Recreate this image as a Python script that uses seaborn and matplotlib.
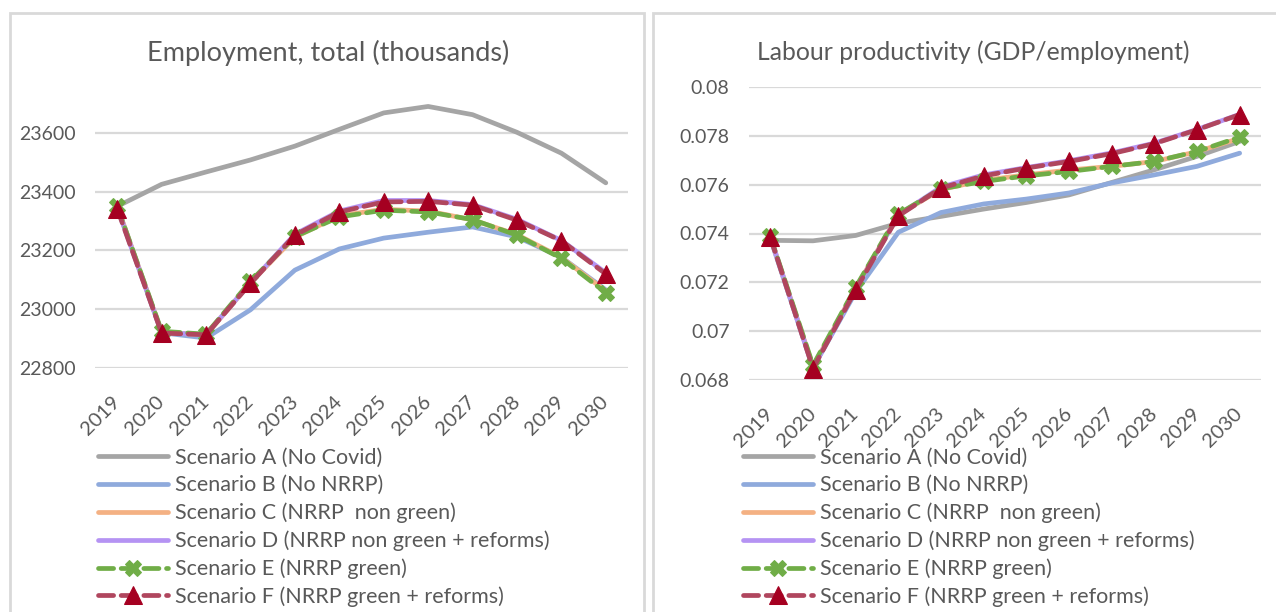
import numpy as np
import pandas as pd
import matplotlib
matplotlib.use('Agg')
import matplotlib.pyplot as plt
import seaborn as sns
from matplotlib.patches import Rectangle

# Data
years = [2019, 2020, 2021, 2022, 2023, 2024, 2025, 2026, 2027, 2028, 2029, 2030]
scenarios = ['Scenario A (No Covid)', 'Scenario B (No NRRP)', 'Scenario C (NRRP  non green)',
             'Scenario D (NRRP non green + reforms)', 'Scenario E (NRRP green)',
             'Scenario F (NRRP green + reforms)']

emp_a = [23350, 23425, 23467, 23508, 23555, 23612, 23668, 23690, 23662, 23602, 23531, 23430]
emp_b = [23350, 22920, 22902, 22998, 23133, 23205, 23242, 23262, 23280, 23246, 23177, 23066]
emp_c = [23350, 22922, 22912, 23090, 23245, 23318, 23340, 23334, 23304, 23254, 23176, 23062]
emp_d = [23345, 22920, 22914, 23090, 23255, 23334, 23370, 23370, 23356, 23306, 23234, 23124]
emp_e = [23350, 22925, 22915, 23095, 23247, 23314, 23337, 23331, 23305, 23252, 23173, 23056]
emp_f = [23342, 22919, 22913, 23088, 23252, 23331, 23365, 23367, 23354, 23303, 23233, 23120]

prod_a = [0.07372, 0.07370, 0.07392, 0.07442, 0.07470, 0.07500, 0.07527, 0.07558, 0.07609, 0.07661, 0.07716, 0.07777]
prod_b = [0.07380, 0.06850, 0.07160, 0.07405, 0.07486, 0.07521, 0.07541, 0.07566, 0.07607, 0.07640, 0.07675, 0.07729]
prod_c = [0.07385, 0.06855, 0.07175, 0.07478, 0.07580, 0.07618, 0.07640, 0.07660, 0.07675, 0.07695, 0.07735, 0.07790]
prod_d = [0.07385, 0.06850, 0.07170, 0.07475, 0.07590, 0.07640, 0.07670, 0.07698, 0.07730, 0.07770, 0.07826, 0.07888]
prod_e = [0.07388, 0.06860, 0.07180, 0.07480, 0.07583, 0.07613, 0.07636, 0.07654, 0.07675, 0.07695, 0.07736, 0.07795]
prod_f = [0.07385, 0.06847, 0.07169, 0.07472, 0.07586, 0.07636, 0.07668, 0.07695, 0.07727, 0.07768, 0.07825, 0.07887]

emp_series = [emp_a, emp_b, emp_c, emp_d, emp_e, emp_f]
prod_series = [prod_a, prod_b, prod_c, prod_d, prod_e, prod_f]

colors = ['#A5A5A5', '#8FAADC', '#F4B183', '#B593F3', '#70AD47', '#B0465E']
text_color = '#595959'
grid_color = '#D9D9D9'

sns.set_style('white')
plt.rcParams['font.family'] = ['Lato', 'DejaVu Sans']

fig = plt.figure(figsize=(12.76, 6.12), dpi=100)

# panel borders
fig.patches.append(Rectangle((10 / 1276, -0.1), 634 / 1276, (612 - 13) / 612 + 0.1,
                             transform=fig.transFigure, fill=False, ec=grid_color, lw=2))
fig.patches.append(Rectangle((653 / 1276, -0.1), 640 / 1276, (612 - 13) / 612 + 0.1,
                             transform=fig.transFigure, fill=False, ec=grid_color, lw=2))

ax1 = fig.add_axes([95 / 1276, 244 / 612, 533 / 1276, 288 / 612])
ax2 = fig.add_axes([749 / 1276, 232 / 612, 512 / 1276, 293 / 612])


def draw(ax, series):
    for i, (name, vals) in enumerate(zip(scenarios, series)):
        df = pd.DataFrame({'year': years, 'value': vals})
        kw = dict(color=colors[i], lw=3.4, label=name, solid_capstyle='round')
        if i == 4:
            kw.update(linestyle=(0, (3.2, 1.6)), marker='X', markersize=12,
                      markerfacecolor=colors[i], markeredgecolor=colors[i], dash_capstyle='round')
        elif i == 5:
            kw.update(linestyle=(0, (3.2, 1.6)), marker='^', markersize=13,
                      markerfacecolor='#A50021', markeredgecolor='#A50021', dash_capstyle='round')
        sns.lineplot(data=df, x='year', y='value', ax=ax, **kw)
    ax.set_xlim(2018.5, 2030.5)
    ax.set_xticks(years)
    ax.set_xticklabels([str(y) for y in years], rotation=45, ha='right', va='center',
                       rotation_mode='anchor')
    ax.set_xlabel('')
    ax.set_ylabel('')
    ax.grid(axis='y', color=grid_color, lw=1.6)
    ax.set_axisbelow(True)
    for s in ax.spines.values():
        s.set_visible(False)
    ax.tick_params(axis='x', length=0, pad=22, labelsize=14.5, labelcolor=text_color)
    ax.tick_params(axis='y', length=0, pad=14, labelsize=14, labelcolor=text_color)
    if ax.get_legend():
        ax.get_legend().remove()


draw(ax1, emp_series)
ax1.set_ylim(22800, 23780)
ax1.set_yticks([22800, 23000, 23200, 23400, 23600])
ax1.set_yticklabels(['22800', '23000', '23200', '23400', '23600'])

draw(ax2, prod_series)
ax2.set_ylim(0.068, 0.080)
ax2.set_yticks([0.068, 0.070, 0.072, 0.074, 0.076, 0.078, 0.080])
ax2.set_yticklabels(['0.068', '0.07', '0.072', '0.074', '0.076', '0.078', '0.08'])

fig.text(328 / 1276, 1 - 53 / 612, 'Employment, total (thousands)', ha='center', va='center',
         fontsize=19.5, color=text_color)
fig.text(973 / 1276, 1 - 52 / 612, 'Labour productivity (GDP/employment)', ha='center', va='center',
         fontsize=17.8, color=text_color)

for ax, x0 in [(ax1, 98), (ax2, 743)]:
    handles, labels = ax.get_legend_handles_labels()
    fig.legend(handles, labels, loc='upper left', bbox_to_anchor=(x0 / 1276, 1 - 448 / 612),
               frameon=False, fontsize=15.5, labelcolor=text_color, handlelength=3.25,
               handletextpad=0.33, labelspacing=0.34, borderpad=0, borderaxespad=0)

fig.savefig('out.png', dpi=100)
